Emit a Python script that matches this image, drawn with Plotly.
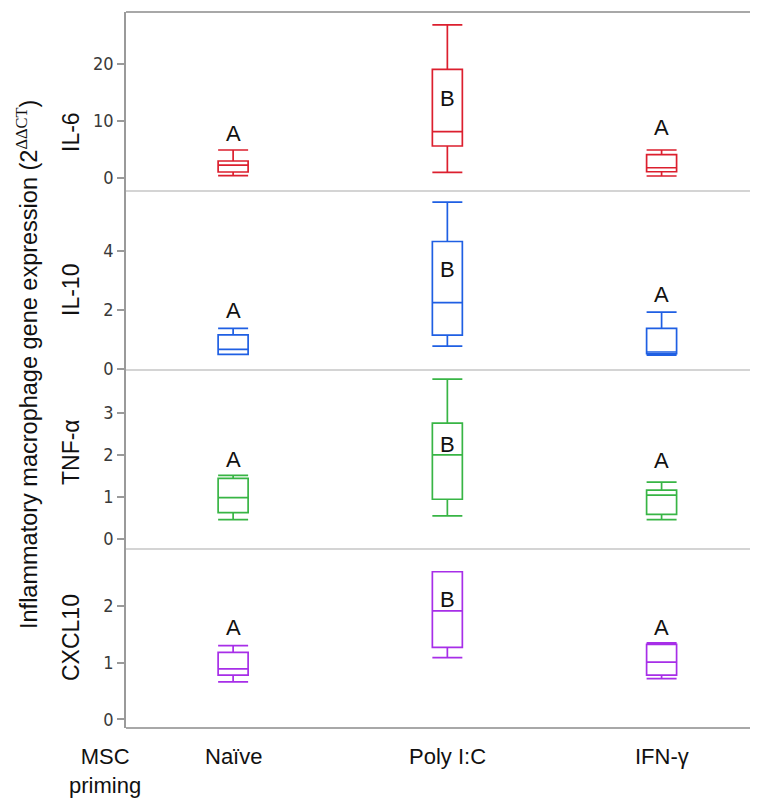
import plotly.graph_objects as go
from plotly.subplots import make_subplots

categories = ["Naïve", "Poly I:C", "IFN-γ"]
genes = ["IL-6", "IL-10", "TNF-α", "CXCL10"]
colors = ["#dc1f2e", "#1f5fe3", "#38b545", "#a72ee8"]

# per gene: values for Naïve, Poly I:C, IFN-γ
il6_low = [0.35, 0.95, 0.3]
il6_q1 = [1.0, 5.56, 1.05]
il6_med = [2.2, 8.07, 1.75]
il6_q3 = [2.93, 19.0, 4.04]
il6_high = [4.86, 26.8, 4.86]

il10_low = [0.5, 0.78, 0.47]
il10_q1 = [0.5, 1.15, 0.52]
il10_med = [0.67, 2.25, 0.58]
il10_q3 = [1.16, 4.32, 1.38]
il10_high = [1.38, 5.65, 1.93]

tnf_low = [0.45, 0.54, 0.45]
tnf_q1 = [0.62, 0.94, 0.58]
tnf_med = [0.98, 2.0, 1.04]
tnf_q3 = [1.44, 2.76, 1.16]
tnf_high = [1.51, 3.81, 1.35]

cxcl_low = [0.66, 1.09, 0.72]
cxcl_q1 = [0.78, 1.27, 0.78]
cxcl_med = [0.89, 1.91, 1.01]
cxcl_q3 = [1.18, 2.60, 1.32]
cxcl_high = [1.30, 2.60, 1.35]

letters = [["A", "B", "A"], ["A", "B", "A"], ["A", "B", "A"], ["A", "B", "A"]]
letter_y = [[7.72, 13.98, 8.81], [1.98, 3.38, 2.52], [1.90, 2.25, 1.86], [1.62, 2.12, 1.62]]

y_ranges = [[-2.33, 29.07], [-0.03, 6.03], [-0.25, 4.03], [-0.15, 3.0]]
y_ticks = [[0, 10, 20], [0, 2, 4], [0, 1, 2, 3], [0, 1, 2]]

stats = [
    (il6_low, il6_q1, il6_med, il6_q3, il6_high),
    (il10_low, il10_q1, il10_med, il10_q3, il10_high),
    (tnf_low, tnf_q1, tnf_med, tnf_q3, tnf_high),
    (cxcl_low, cxcl_q1, cxcl_med, cxcl_q3, cxcl_high),
]

# page has an 8px body margin; figure coords = page coords - 8
W, H = 750, 790
ml, mr, mt, mb = 118, 0, 4, 70
pw = W - ml - mr
ph = H - mt - mb


def px_x(page_x):
    return (page_x - 8 - ml) / pw


def px_y(page_y):
    return 1 - (page_y - 8 - mt) / ph


gene_label_page_y = [132, 290, 452, 637]

fig = make_subplots(rows=4, cols=1, shared_xaxes=True, vertical_spacing=0)

TEXT_FONT = "Liberation Sans, Arial, sans-serif"
TICK_FONT = "DejaVu Sans Condensed, Liberation Sans Narrow, Roboto Condensed, sans-serif"

for g, (lo, q1, med, q3, hi) in enumerate(stats):
    row = g + 1
    xa = "x" if row == 1 else f"x{row}"
    ya = "y" if row == 1 else f"y{row}"
    for i, cat in enumerate(categories):
        fig.add_trace(go.Box(
            x=[i], q1=[q1[i]], median=[med[i]], q3=[q3[i]],
            lowerfence=[lo[i]], upperfence=[hi[i]],
            width=0.14, whiskerwidth=1,
            line=dict(color=colors[g], width=1.7),
            fillcolor="rgba(0,0,0,0)", boxpoints=False,
            showlegend=False, hoverinfo="skip", name=cat,
        ), row=row, col=1)
        fig.add_annotation(x=i, y=letter_y[g][i], xref=xa, yref=ya,
                           text=letters[g][i], showarrow=False,
                           font=dict(family=TEXT_FONT, size=22, color="#111"),
                           yanchor="middle", xanchor="center")
    fig.update_yaxes(range=y_ranges[g], tickvals=y_ticks[g], row=row, col=1,
                     showline=True, linecolor="#9a9a9a", linewidth=1.5,
                     ticks="outside", ticklen=7, tickcolor="#9a9a9a", tickwidth=1.5,
                     tickfont=dict(family=TICK_FONT, size=18, color="#3a3a3a"),
                     showgrid=False, zeroline=False)
    fig.update_xaxes(range=[-0.5, 2.45], showticklabels=False, showgrid=False,
                     zeroline=False, showline=False, ticks="", row=row, col=1)
    fig.add_annotation(x=px_x(71), y=px_y(gene_label_page_y[g]), xref="paper", yref="paper",
                       text=genes[g], textangle=-90, showarrow=False,
                       font=dict(family=TEXT_FONT, size=23, color="#111"),
                       xanchor="center", yanchor="middle")

shapes = []
for yy in [0, 0.25, 0.5, 0.75, 1.0]:
    col = "#a8a8a8" if yy in (0, 1.0) else "#d4d4d4"
    shapes.append(dict(type="line", xref="paper", yref="paper", x0=0, x1=1, y0=yy, y1=yy,
                       line=dict(color=col, width=2)))
fig.update_layout(shapes=shapes)

for i, cat in enumerate(categories):
    fig.add_annotation(x=i, y=px_y(757), xref="x4", yref="paper",
                       text=cat, showarrow=False,
                       font=dict(family=TEXT_FONT, size=22, color="#111"),
                       xanchor="center", yanchor="middle")
fig.add_annotation(x=px_x(105), y=px_y(771), xref="paper", yref="paper",
                   text="MSC<br>priming", showarrow=False,
                   font=dict(family=TEXT_FONT, size=22, color="#111"),
                   xanchor="center", yanchor="middle")

fig.add_annotation(x=px_x(27), y=px_y(365), xref="paper", yref="paper",
                   text="Inflammatory macrophage gene expression (2<sup><span style='font-family:Liberation Serif'>ΔΔCT</span></sup>)",
                   textangle=-90, showarrow=False,
                   font=dict(family=TEXT_FONT, size=23.5, color="#111"),
                   xanchor="center", yanchor="middle")

fig.update_layout(width=W, height=H, margin=dict(l=ml, r=mr, t=mt, b=mb),
                  paper_bgcolor="white", plot_bgcolor="white", showlegend=False)

fig.write_html("out.html")
